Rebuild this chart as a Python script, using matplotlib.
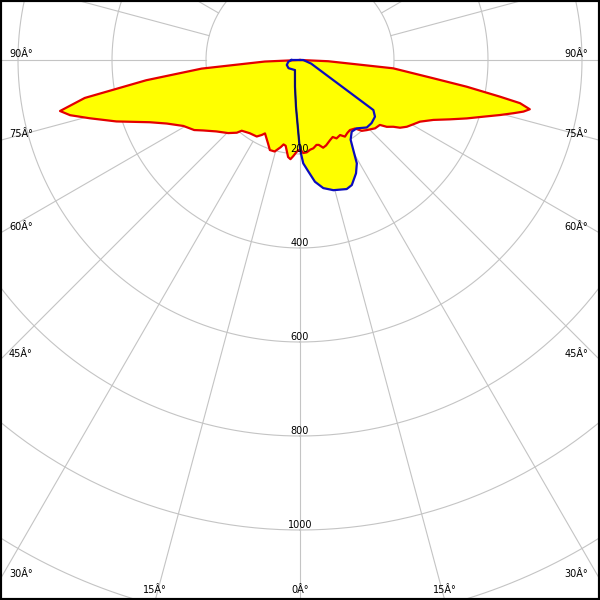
import numpy as np
import matplotlib
matplotlib.use("Agg")
import matplotlib.pyplot as plt
from matplotlib.patches import Rectangle

# ---- data (gamma angle in degrees, intensity in cd/klm) ----
red_angles = [-90, -87.5, -85, -82.5, -80, -78, -76.5, -74.5, -71.5, -67.5, -64.5, -60.5,
              -56.5, -54, -49.5, -44.5, -41, -39.5, -34.5, -29.5, -27, -25.5, -21, -18.5,
              -15.5, -12.5, -11, -9.5, -7, -5.5, -4, -2, 0,
              2, 4.2, 6.5, 8.6, 11, 12.5, 14.8, 17, 20.6, 23, 25, 28.1, 30.4, 33, 35.5,
              38.8, 41.1, 43.6, 47.7, 50.9, 52.4, 54.4, 55.9, 58, 60.4, 62.8, 65.8, 68.4,
              70.7, 72.8, 74.6, 76, 77, 77.9, 78.9, 79.6, 80.9, 82.2, 84.9, 87.5, 90]
red_values = [0, 75, 210, 330, 465, 522, 503, 464, 412, 346, 314, 285,
              270, 255, 234, 218, 205, 195, 189, 187, 179, 173, 190, 202,
              202, 190, 183, 185, 208, 212, 205, 195, 190,
              198, 197, 192, 190, 184, 185, 193, 190, 182, 178, 184, 181, 189, 185, 183,
              187, 200, 206, 216, 219, 233, 244, 257, 268, 277, 287, 311, 343,
              376, 408, 441, 468, 488, 500, 477, 433, 359, 286, 199, 60, 0]

blue_angles = [-90, -81.7, -69.4, -54.6, -26.6, -10.6, -4.9, -0.5, 0.6, 1.8, 4.3, 7,
               10.3, 14.4, 19.9, 22.5, 26.3, 28.8, 30.6, 32.4, 35.8, 39.7, 44.7, 48.6,
               52.9, 55.7, 72, 90]
blue_values = [18, 25, 30, 30, 24, 58, 100, 177, 199, 220, 238, 261,
               277, 286, 292, 288, 269, 251, 223, 201, 188, 189, 202, 203,
               200, 189, 25, 7]

dark_angles = [-26.6, -10.6, -4.9, -0.5, 0.6]
dark_values = [24, 58, 100, 177, 199]

ring_values = [200, 400, 600, 800, 1000, 1200, 1400]
ring_labels = ["200", "400", "600", "800", "1000"]
spoke_angles = list(range(0, 360, 15))
side_label_angles = [90, 75, 60, 45, 30]
bottom_label_angles = [-15, 0, 15]

PX = 0.47  # pixels per cd unit


def to_xy(ang, val):
    a = np.deg2rad(np.asarray(ang, dtype=float))
    v = np.asarray(val, dtype=float)
    return v * np.sin(a), -v * np.cos(a)


fig = plt.figure(figsize=(6, 6), dpi=100)
ax = fig.add_axes([0, 0, 1, 1])
ax.set_xlim(-300 / PX, 300 / PX)
ax.set_ylim(-540 / PX, 60 / PX)
ax.axis("off")

grid_c = "#c4c4c4"
th = np.linspace(0, 360, 721)
for r in ring_values:
    x, y = to_xy(th, np.full_like(th, r))
    ax.plot(x, y, color=grid_c, lw=0.8, zorder=1)
for a in spoke_angles:
    x, y = to_xy([a, a], [200, 3000])
    ax.plot(x, y, color=grid_c, lw=0.8, zorder=1)

# filled polygons
rx, ry = to_xy(red_angles, red_values)
bx, by = to_xy(blue_angles, blue_values)
ax.fill(rx, ry, color="#ffff00", zorder=2, lw=0)
ax.fill(bx, by, color="#ffff00", zorder=2, lw=0)
ax.plot(np.append(rx, rx[0]), np.append(ry, ry[0]), color="#e40000", lw=1.6, zorder=3,
        solid_joinstyle="round")
ax.plot(np.append(bx, bx[0]), np.append(by, by[0]), color="#0c0cbe", lw=1.6, zorder=4,
        solid_joinstyle="round")
dx, dy = to_xy(dark_angles, dark_values)
ax.plot(dx, dy, color="#101040", lw=0.9, zorder=4)

fs = 7
for r, lab in zip(ring_values, ring_labels):
    ax.text(0, -r + 2 / PX, lab, ha="center", va="baseline", fontsize=fs, zorder=5)

for a in side_label_angles:
    yl = -(300 / PX) / np.tan(np.deg2rad(a)) + 3 / PX
    lab = f"{a}Â°"
    ax.text(-291 / PX, yl, lab, ha="left", va="baseline", fontsize=fs, zorder=5)
    ax.text(288 / PX, yl, lab, ha="right", va="baseline", fontsize=fs, zorder=5)

for a in bottom_label_angles:
    xb = np.tan(np.deg2rad(a)) * 540 / PX
    ax.text(xb, -533 / PX, f"{abs(a)}Â°", ha="center", va="baseline", fontsize=fs, zorder=5)

fig.patches.append(Rectangle((0, 0), 1, 1, transform=fig.transFigure, fill=False,
                             edgecolor="black", lw=3))

fig.savefig("out.png", dpi=100)
